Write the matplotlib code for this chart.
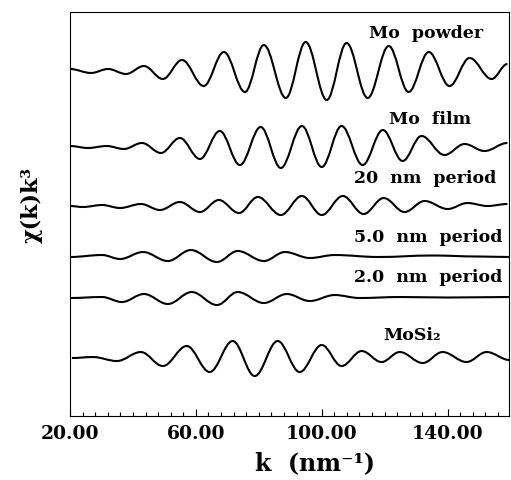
import matplotlib
matplotlib.use("Agg")
import matplotlib.pyplot as plt
from matplotlib.path import Path
from matplotlib.patches import PathPatch
from matplotlib.ticker import FixedLocator, MultipleLocator, FormatStrFormatter

# extrema of each stacked chi(k)k^3 trace (k, offset signal)
powder_k = [20.0, 26.7, 32.1, 37.8, 43.5, 49.5, 55.6, 62.5, 68.9, 75.6, 81.6, 88.6,
            94.9, 101.6, 107.9, 114.6, 121.3, 127.6, 134.0, 140.6, 147.0, 154.0, 159.0]
powder_y = [347, 343, 347, 342, 350, 337, 356, 330, 364, 324, 371, 318,
            374, 316, 373, 318, 370, 324, 364, 330, 358, 337, 352]

film_k = [20.0, 25.7, 31.7, 37.1, 42.9, 48.9, 54.9, 61.3, 67.6, 74.0, 80.6, 87.0,
          93.7, 100.0, 106.3, 113.0, 119.4, 125.7, 131.7, 139.0, 145.4, 151.7, 159.0]
film_y = [270, 268, 270, 267, 273, 263, 278, 257, 285, 251, 289, 248,
          290, 249, 290, 251, 286, 255, 280, 261, 272, 265, 273]

p20_k = [20.0, 24.1, 30.2, 35.9, 42.5, 48.6, 54.9, 61.3, 67.3, 73.7, 79.7, 87.0,
         93.7, 100.0, 106.7, 113.3, 119.7, 126.3, 132.7, 140.0, 146.3, 152.7, 159.0]
p20_y = [210, 209, 211, 208, 212, 206, 214, 204, 216, 203, 219, 201,
         220, 201, 220, 202, 218, 204, 215, 207, 213, 210, 212]

p5_k = [20.0, 30.2, 35.9, 43.2, 51.1, 58.4, 66.7, 73.3, 81.6, 88.3, 96.2, 104.1,
        118.0, 135.0, 150.0, 159.5]
p5_y = [159, 161, 157, 164, 155, 166, 154, 165, 155, 164, 158, 161,
        159, 160.5, 159.5, 159]

p2_k = [20.0, 30.2, 36.5, 43.5, 51.1, 58.7, 66.7, 73.3, 81.6, 88.9, 96.2, 104.1,
        112.0, 125.0, 140.0, 159.5]
p2_y = [118, 119, 114, 122, 112, 124, 111, 124, 113, 122, 115, 121,
        118, 119, 118.5, 119]

mosi2_k = [20.6, 27.3, 34.9, 42.5, 49.5, 57.1, 64.4, 71.7, 78.7, 86.0, 93.0,
           100.0, 106.3, 112.7, 119.0, 124.8, 132.1, 138.4, 146.0, 152.4, 159.7]
mosi2_y = [58, 59, 55, 64, 50, 70, 44, 75, 40, 75, 44,
           71, 50, 65, 54, 64, 53, 64, 54, 64, 56]

names = ["Mo  powder", "Mo  film", "20  nm  period", "5.0  nm  period",
         "2.0  nm  period", "MoSi\u2082"]
name_k = [133.3, 134.3, 132.7, 133.7, 133.7, 128.6]
name_y = [383, 297, 239, 180, 140, 82]

major_k = [20, 60, 100, 140]

traces = [(powder_k, powder_y), (film_k, film_y), (p20_k, p20_y),
          (p5_k, p5_y), (p2_k, p2_y), (mosi2_k, mosi2_y)]

serif = "DejaVu Serif"


def smooth_path(ks, ys):
    # cubic segments with flat tangents at every extremum (half-cosine shape)
    verts = [(ks[0], ys[0])]
    codes = [Path.MOVETO]
    for i in range(len(ks) - 1):
        d = ks[i + 1] - ks[i]
        verts += [(ks[i] + 0.364 * d, ys[i]), (ks[i + 1] - 0.364 * d, ys[i + 1]),
                  (ks[i + 1], ys[i + 1])]
        codes += [Path.CURVE4] * 3
    return Path(verts, codes)


fig = plt.figure(figsize=(5.11, 4.81), dpi=100)
ax = fig.add_axes([0.137, 0.133, 0.859, 0.840])

for ks, ys in traces:
    ax.add_patch(PathPatch(smooth_path(ks, ys), facecolor="none",
                           edgecolor="black", lw=1.5))

for t, tk, ty in zip(names, name_k, name_y):
    ax.text(tk, ty, t, ha="center", va="center", fontsize=12.5,
            fontweight="bold", family=serif)

ax.set_xlim(20, 159.5)
ax.set_ylim(0, 404)
ax.xaxis.set_major_locator(FixedLocator(major_k))
ax.xaxis.set_minor_locator(MultipleLocator(4))
ax.xaxis.set_major_formatter(FormatStrFormatter("%.2f"))
ax.tick_params(axis="x", which="major", direction="in", length=5, width=0.8,
               labelsize=13.5, pad=6)
ax.tick_params(axis="x", which="minor", direction="in", length=3, width=0.8)
ax.set_yticks([])
for lab in ax.get_xticklabels():
    lab.set_fontweight("bold")
    lab.set_family(serif)
for s in ax.spines.values():
    s.set_linewidth(0.8)

fig.text(315 / 511, 1 - 463 / 481, "k  (nm\u207b\u00b9)", ha="center", va="center",
         fontsize=17, fontweight="bold", family=serif)
fig.text(32 / 511, 1 - 205 / 481, "\u03c7(k)k\u00b3", ha="center", va="center",
         rotation=90, fontsize=16, fontweight="bold", family=serif)

fig.savefig("out.png", dpi=100)
